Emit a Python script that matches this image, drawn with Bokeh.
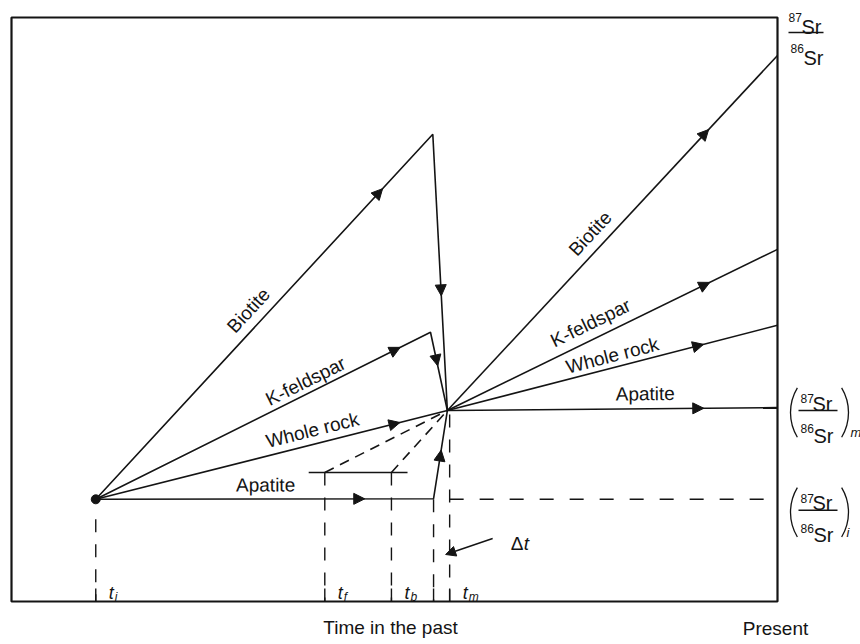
import math
from bokeh.plotting import figure
from bokeh.models import Range1d, Arrow, NormalHead
from bokeh.core.properties import value
from bokeh.embed import file_html
from bokeh.resources import INLINE

# ---------------- data (schematic units) ----------------
# time axis: 0 = left edge of the diagram, 100 = present
t_initial = 11.0      # t_i
t_f = 40.9            # t_f
t_b = 49.6            # t_b
t_apatite = 55.1      # apatite starts to re-equilibrate
t_mix = 56.9          # homogenization point
t_m = 57.2            # t_m
t_present = 100.0

# 87Sr/86Sr axis: 0 = bottom of the diagram, 100 = top
r_initial = 17.5      # (87Sr/86Sr)_i
r_mix = 32.7          # (87Sr/86Sr)_m
r_closure = 22.1      # level of the apatite bar between t_f and t_b
closure_bar = [38.8, 51.7]
r_top = 100.0

minerals = ["Biotite", "K-feldspar", "Whole rock", "Apatite"]
t_before = [55.0, 54.7, None, 55.1]     # time of the value just before metamorphism
r_before = [80.0, 46.1, None, 17.6]     # ratio just before metamorphism
r_present = [93.5, 60.3, 47.3, 33.2]    # ratio today

tick_subs = ["i", "f", "b", "m"]
tick_times = [t_initial, t_f, t_b, t_m]

# ---------------- layout ----------------
W, H = 860, 644
BOX_L, BOX_R, BOX_T, BOX_B = 11, 777, 17, 601
sx = (BOX_R - BOX_L) / (t_present - 0.0)
sy = (BOX_B - BOX_T) / (r_top - 0.0)

def px(d):
    return d / sx

def py(d):
    return d / sy

FONT = value("Liberation Sans")
INK = "#141414"
LW = 1.6

p = figure(width=W, height=H,
           x_range=Range1d(-BOX_L / sx, t_present + (W - BOX_R) / sx),
           y_range=Range1d(-(H - BOX_B) / sy, r_top + BOX_T / sy),
           output_backend="svg", toolbar_location=None, min_border=0,
           x_axis_type=None, y_axis_type=None, outline_line_color=None)
p.xgrid.visible = False
p.ygrid.visible = False

# frame
p.quad(left=[0], right=[t_present], bottom=[0], top=[r_top],
       fill_color=None, line_color=INK, line_width=2.2)

# ---------------- evolution lines ----------------
arrows = []   # (x0, y0, x1, y1, fraction)
for i, name in enumerate(minerals):
    if t_before[i] is None:
        pre = [(t_initial, r_initial), (t_mix, r_mix)]
    else:
        pre = [(t_initial, r_initial), (t_before[i], r_before[i]), (t_mix, r_mix)]
    post = [(t_mix, r_mix), (t_present, r_present[i])]
    p.line([q[0] for q in pre], [q[1] for q in pre], line_color=INK, line_width=LW)
    p.line([q[0] for q in post], [q[1] for q in post], line_color=INK, line_width=LW)

left_frac = [0.84, 0.895, 0.85, 0.78]
mid_frac = [0.565, 0.36, None, 0.49]
right_frac = [0.78, 0.78, 0.76, 0.76]
for i in range(4):
    if t_before[i] is None:
        arrows.append((t_initial, r_initial, t_mix, r_mix, left_frac[i]))
    else:
        arrows.append((t_initial, r_initial, t_before[i], r_before[i], left_frac[i]))
        arrows.append((t_before[i], r_before[i], t_mix, r_mix, mid_frac[i]))
    arrows.append((t_mix, r_mix, t_present, r_present[i], right_frac[i]))

for (x0, y0, x1, y1, f) in arrows:
    dx, dy = x1 - x0, y1 - y0
    L = math.hypot(dx * sx, dy * sy)
    ex = x0 + dx * (f + 5.5 / L)
    ey = y0 + dy * (f + 5.5 / L)
    bx = x0 + dx * (f + 4.0 / L)
    by = y0 + dy * (f + 4.0 / L)
    p.add_layout(Arrow(end=NormalHead(size=11, fill_color=INK, line_color=INK, line_width=1),
                       x_start=bx, y_start=by, x_end=ex, y_end=ey,
                       line_color=INK, line_width=LW))

# initial point
p.scatter([t_initial], [r_initial], size=9, fill_color=INK, line_color=INK)

# apatite bar between t_f and t_b
p.line(closure_bar, [r_closure, r_closure], line_color=INK, line_width=LW)

# dashed guides toward the homogenization point
for tc in [t_f, t_b]:
    p.line([tc, t_mix], [r_closure, r_mix], line_color=INK, line_width=LW, line_dash="10 7")

# vertical dashed time markers
p.line([t_initial, t_initial], [r_initial - py(20), 0], line_color=INK, line_width=1.4, line_dash="13 12")
for tc in [t_f, t_b]:
    p.line([tc, tc], [r_closure, 0], line_color=INK, line_width=1.4, line_dash="13 12")
p.line([t_apatite, t_apatite], [r_initial, 0], line_color=INK, line_width=1.4, line_dash="13 12")
p.line([t_m, t_m], [r_mix - py(4), 0], line_color=INK, line_width=1.4, line_dash="13 12")
# horizontal dashed initial ratio
p.line([t_m, t_present], [r_initial, r_initial], line_color=INK, line_width=1.4, line_dash="14 16")

# ticks on the time axis
for tc in [t_initial, t_f, t_b, t_apatite, t_m]:
    p.line([tc, tc], [0, py(13)], line_color=INK, line_width=1.4)

# ---------------- line labels ----------------
lab_frac_left = [0.488, 0.643, 0.626, 0.503]
lab_off_left = [16, 12, 14, 14]
lab_frac_right = [0.468, 0.455, 0.509, 0.60]
lab_off_right = [16, 16, 12, 15]
lx, ly, la, lt = [], [], [], []

def place(x0, y0, x1, y1, f, off, txt):
    dxs, dys = (x1 - x0) * sx, (y1 - y0) * sy
    L = math.hypot(dxs, dys)
    nx, ny = -dys / L, dxs / L
    lx.append(x0 + (x1 - x0) * f + px(nx * off))
    ly.append(y0 + (y1 - y0) * f + py(ny * off))
    la.append(math.atan2(dys, dxs))
    lt.append(txt)

for i, name in enumerate(minerals):
    if t_before[i] is None:
        place(t_initial, r_initial, t_mix, r_mix, lab_frac_left[i], lab_off_left[i], name)
    else:
        place(t_initial, r_initial, t_before[i], r_before[i], lab_frac_left[i], lab_off_left[i], name)
    place(t_mix, r_mix, t_present, r_present[i], lab_frac_right[i], lab_off_right[i], name)

p.text(x=lx, y=ly, text=lt, angle=la, text_font=FONT, text_font_size="19px",
       text_align="center", text_baseline="middle", text_color=INK)

# ---------------- time labels ----------------
p.text(x=[tc + px(13) for tc in tick_times], y=[py(9)] * 4, text=["t"] * 4,
       text_font=FONT, text_font_size="18px", text_font_style="italic",
       text_align="left", text_baseline="alphabetic", text_color=INK)
p.text(x=[tc + px(19) for tc in tick_times], y=[py(5)] * 4, text=tick_subs,
       text_font=FONT, text_font_size="12px", text_font_style="italic",
       text_align="left", text_baseline="alphabetic", text_color=INK)

# delta t arrow
dt_x0, dt_y0 = t_m + px(43), py(63)
dt_x1, dt_y1 = t_m - px(4), py(47)
p.add_layout(Arrow(end=NormalHead(size=10, fill_color=INK, line_color=INK, line_width=1),
                   x_start=dt_x0, y_start=dt_y0, x_end=dt_x1, y_end=dt_y1,
                   line_color=INK, line_width=1.4))
p.text(x=[dt_x0 + px(18)], y=[dt_y0 - py(5)], text=["Δ"], text_font=FONT,
       text_font_size="19px", text_align="left", text_baseline="alphabetic", text_color=INK)
p.text(x=[dt_x0 + px(31)], y=[dt_y0 - py(5)], text=["t"], text_font=FONT,
       text_font_size="19px", text_font_style="italic", text_align="left",
       text_baseline="alphabetic", text_color=INK)

# axis captions
p.text(x=[t_present / 2 - px(4)], y=[-py(26)], text=["Time in the past"], text_font=FONT,
       text_font_size="19px", text_align="center", text_baseline="alphabetic", text_color=INK)
p.text(x=[t_present - px(2)], y=[-py(27)], text=["Present"], text_font=FONT,
       text_font_size="19px", text_align="center", text_baseline="alphabetic", text_color=INK)

# ---------------- ratio labels ----------------
big_x, big_y, big_t = [], [], []
small_x, small_y, small_t = [], [], []
sub_x, sub_y, sub_t = [], [], []

def ratio_label(x0, ybar, paren, sub=None, sub_dx=60):
    if paren:
        n_dx, s_dx, d_dx, ds_dx, bar = 10, 22, 10, 23, (8, 47)
        n_up, s_up, d_dn, ds_dn = 12, 7, 18, 25
    else:
        n_dx, s_dx, d_dx, ds_dx, bar = 0, 13, 2, 15, (0, 35)
        n_up, s_up, d_dn, ds_dn = 15, 6, 16, 25
    small_x.extend([x0 + px(n_dx), x0 + px(d_dx)])
    small_y.extend([ybar + py(n_up), ybar - py(d_dn)])
    small_t.extend(["87", "86"])
    big_x.extend([x0 + px(s_dx), x0 + px(ds_dx)])
    big_y.extend([ybar + py(s_up), ybar - py(ds_dn)])
    big_t.extend(["Sr", "Sr"])
    p.line([x0 + px(bar[0]), x0 + px(bar[1])], [ybar, ybar], line_color=INK, line_width=1.5)
    if paren:
        cy = ybar - py(2)
        p.arc(x=[x0 + px(48)], y=[cy], radius=48, radius_units="screen",
              start_angle=math.radians(149), end_angle=math.radians(211),
              line_color=INK, line_width=1.3)
        p.arc(x=[x0 + px(10)], y=[cy], radius=48, radius_units="screen",
              start_angle=math.radians(-31), end_angle=math.radians(31),
              line_color=INK, line_width=1.3)
    if sub:
        sub_x.append(x0 + px(sub_dx))
        sub_y.append(ybar - py(22))
        sub_t.append(sub)

ratio_label(t_present + px(11), r_top - py(15), False)
ratio_label(t_present + px(13), r_mix, True, "m", 60)
ratio_label(t_present + px(13), r_initial - py(11), True, "i", 56)

p.text(x=big_x, y=big_y, text=big_t, text_font=FONT, text_font_size="20px",
       text_align="left", text_baseline="alphabetic", text_color=INK)
p.text(x=small_x, y=small_y, text=small_t, text_font=FONT, text_font_size="12px",
       text_align="left", text_baseline="alphabetic", text_color=INK)
p.text(x=sub_x, y=sub_y, text=sub_t, text_font=FONT, text_font_size="13px",
       text_font_style="italic", text_align="left", text_baseline="alphabetic", text_color=INK)

open("out.html", "w").write(file_html(p, INLINE))
